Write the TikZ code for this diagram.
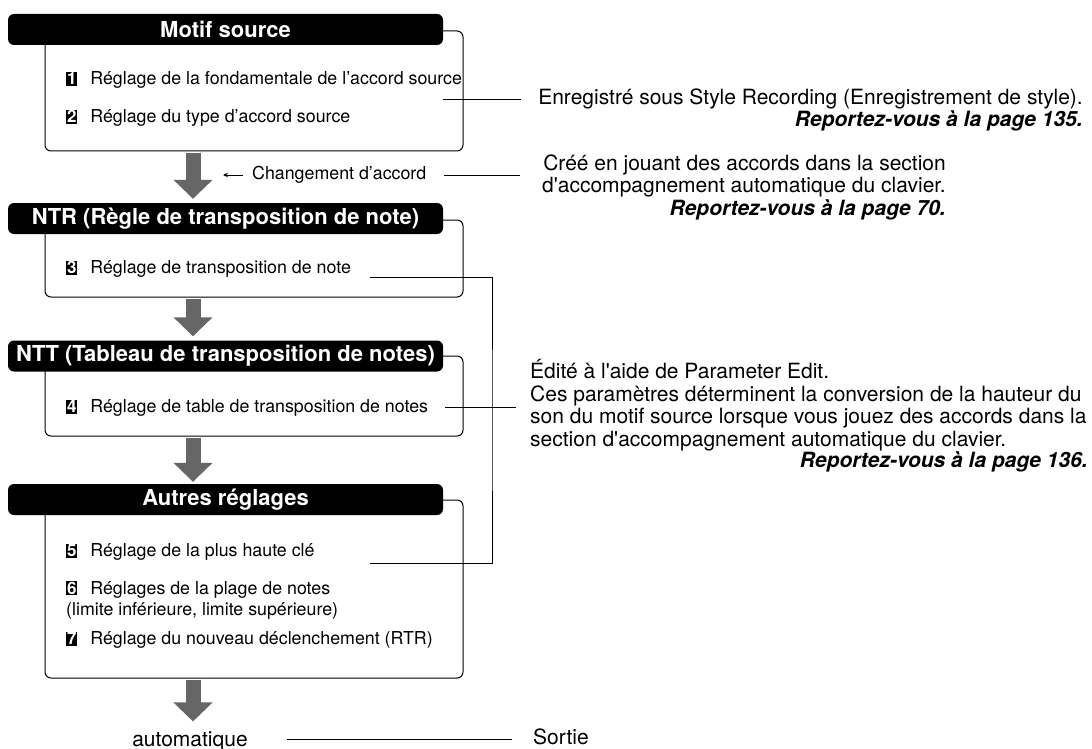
\documentclass[tikz,border=0pt]{standalone}
\usepackage{fontspec}
\setmainfont{TeX Gyre Heros}
\newfontfamily\hv{TeX Gyre Heros}
\usetikzlibrary{arrows.meta,calc}
\definecolor{flowgray}{RGB}{102,102,102}
\newcommand{\titlefont}{\hv\bfseries\fontsize{22}{24}\selectfont}
\newcommand{\bodyfont}{\hv\fontsize{17.8}{21}\selectfont}
\newcommand{\notefont}{\hv\fontsize{21}{22.5}\selectfont}
\newcommand{\badge}[1]{{\setlength{\fboxsep}{0.6pt}\colorbox{black}{\makebox[10pt]{\rule[-0.8pt]{0pt}{13pt}\textcolor{white}{\bfseries\fontsize{17}{17}\selectfont #1}}}}\hspace{13pt}}
\newcommand{\seepage}[1]{\textbf{\textit{Reportez-vous à la page #1.}}}
\tikzset{
  frame/.style={draw=black, line width=1pt, rounded corners=6pt, minimum width=418, inner sep=0},
  hdr/.style={fill=black, rounded corners=6pt, text=white, font=\titlefont, minimum width=435, minimum height=31, inner sep=0},
  item/.style={anchor=west, font=\bodyfont, align=left, inner sep=0},
  note/.style={font=\notefont, inner sep=0, align=right},
  flow/.style={draw=flowgray, line width=15pt, -{Triangle[width=38pt,length=19pt]}},
  link/.style={draw=black, line width=1pt}
}

\begin{document}
\begin{tikzpicture}[x=1pt,y=-1pt]
  \useasboundingbox (0,0) rectangle (1092,749);
  \node[frame, minimum height=120] (f1) at (254,91) {};
  \node[frame, minimum height=77] (f2) at (254,258.5) {};
  \node[frame, minimum height=80] (f3) at (254,396) {};
  \node[frame, minimum height=178] (f4) at (254,589) {};
  \node[hdr] (h1) at (225.5,29.5) {Motif source};
  \node[hdr] (h2) at (225.5,218.5) {NTR (Règle de transposition de note)};
  \node[hdr] (h3) at (225.5,356) {NTT (Tableau de transposition de notes)};
  \node[hdr] (h4) at (225.5,499.5) {Autres réglages};

  \node[item] (i1) at (66,80) {\badge{1}Réglage de la fondamentale de l’accord source};
  \node[item] (i2) at (66,118) {\badge{2}Réglage du type d’accord source};
  \node[item] (i3) at (66,269) {\badge{3}Réglage de transposition de note};
  \node[item] (i4) at (66,408) {\badge{4}Réglage de table de transposition de notes};
  \node[item] (i5) at (66,552) {\badge{5}Réglage de la plus haute clé};
  \node[item] (i6) at (66,600) {\badge{6}Réglages de la plage de notes\\(limite inférieure, limite supérieure)};
  \node[item] (i7) at (66,640) {\badge{7}Réglage du nouveau déclenchement (RTR)};
  \node[item] (chg) at (252,175) {Changement d’accord};
  \coordinate (chgtip) at (223,175);

  \node[note, anchor=east] (rec) at (1083,110) {Enregistré sous Style Recording (Enregistrement de style).\\\seepage{135}};
  \node[note, anchor=east] (cree) at (946,187) {Créé en jouant des accords dans la section\\d'accompagnement automatique du clavier.\\\seepage{70}};
  \node[note, anchor=west, align=left] (edit) at (530,405) {Édité à l'aide de Parameter Edit.\\Ces paramètres déterminent la conversion de la hauteur du\\son du motif source lorsque vous jouez des accords dans la\\section d'accompagnement automatique du clavier.};
  \node[note, anchor=east] (editref) at (1088,462) {\seepage{136}};
  \node[note, anchor=base] (auto) at (190,746.5) {automatique};
  \node[note, anchor=base west] (out) at (533,744) {Sortie};

  \draw[flow, shorten <=1pt, shorten >=4pt] ([xshift=-61pt]f1.south) -- ([xshift=-32.5pt]h2.north);
  \draw[flow, shorten <=1pt, shorten >=4pt] ([xshift=-61pt]f2.south) -- ([xshift=-32.5pt]h3.north);
  \draw[flow, shorten <=1pt, shorten >=2pt] ([xshift=-61pt]f3.south) -- ([xshift=-32.5pt]h4.north);
  \draw[flow, shorten <=1pt, shorten >=10pt] ([xshift=-61pt]f4.south) -- ([xshift=3pt]auto.north);

  \draw[link, -{Stealth[length=5pt,width=4.5pt]}, shorten <=9pt] (chg.west) -- (chgtip);
  \coordinate (c1) at (443,100);
  \draw[link, shorten >=17pt] (c1) -- (c1 -| rec.west);
  \draw[link, shorten <=17pt, shorten >=22pt] (chg.east) -- (chg.east -| cree.west);
  \coordinate (b3) at (370,277);
  \coordinate (b5) at (370,563);
  \coordinate (bx) at (492,420);
  \draw[link] (b3) -| (bx) |- (b5);
  \coordinate (c4) at (445,407);
  \draw[link, shorten >=14pt] (c4) -- (c4 -| edit.west);
  \coordinate (c7) at (287,739);
  \draw[link, shorten >=21pt] (c7) -- (c7 -| out.west);
\end{tikzpicture}
\end{document}
